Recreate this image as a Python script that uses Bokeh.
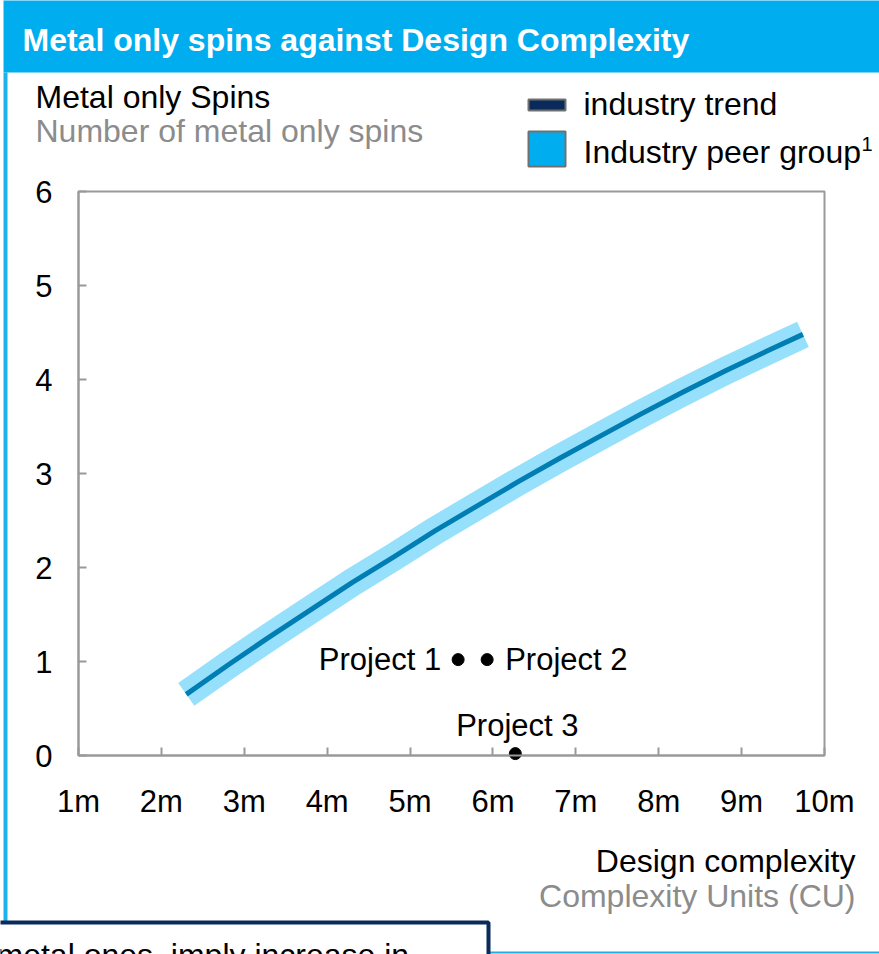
from bokeh.plotting import figure
from bokeh.models import (ColumnDataSource, BoxAnnotation, Label, FixedTicker,
                          Range1d, LinearAxis)
from bokeh.core.properties import value
from bokeh.embed import file_html
from bokeh.resources import INLINE

# ---------------- data ----------------
x_ticks = [1, 2, 3, 4, 5, 6, 7, 8, 9, 10]
x_tick_labels = ["1m", "2m", "3m", "4m", "5m", "6m", "7m", "8m", "9m", "10m"]
y_ticks = [0, 1, 2, 3, 4, 5, 6]

trend_x = [2.3, 2.8, 3.3, 3.8, 4.3, 4.8, 5.3, 5.8, 6.3, 6.8, 7.3, 7.8, 8.3, 8.8, 9.3, 9.74]
trend_y = [0.65, 0.96, 1.26, 1.55, 1.84, 2.11, 2.39, 2.65, 2.91, 3.16, 3.40, 3.64, 3.87, 4.09, 4.30, 4.48]

proj_names = ["Project 1", "Project 2", "Project 3"]
proj_x = [5.58, 5.93, 6.27]
proj_y = [1.02, 1.02, 0.02]

title_text = "Metal only spins against Design Complexity"
y_title = "Metal only Spins"
y_sub = "Number of metal only spins"
x_title = "Design complexity"
x_sub = "Complexity Units (CU)"
legend_labels = ["industry trend", "Industry peer group"]
footer_text = "metal ones, imply increase in"

# ---------------- layout ----------------
W, H = 879, 954
FL, FR, FT, FB = 78, 824, 191, 755          # chart frame in canvas pixels
XMIN, XMAX, YMIN, YMAX = 1, 10, 0, 6
kx = (XMAX - XMIN) / (FR - FL)
ky = (YMAX - YMIN) / (FB - FT)
FONT = "Liberation Sans"
BLUE = "#00AEEF"
NAVY = "#0B2A5C"
GRAY_TXT = "#8C8C8C"
AX = "#999999"

p = figure(width=W, height=H, output_backend="svg", toolbar_location=None,
           x_axis_location=None, y_axis_location=None,
           x_range=Range1d(XMIN - FL * kx, XMAX + (W - FR) * kx),
           y_range=Range1d(YMIN - (H - FB) * ky, YMAX + FT * ky),
           min_border=0, background_fill_color="white",
           border_fill_color="white")
p.xgrid.visible = False
p.ygrid.visible = False
p.outline_line_color = None


def style_axis(ax):
    ax.axis_line_color = AX
    ax.axis_line_width = 2
    ax.major_tick_in = 8
    ax.major_tick_out = 0
    ax.major_tick_line_color = AX
    ax.major_tick_line_width = 2
    ax.minor_tick_line_color = None
    ax.major_label_text_font = FONT
    ax.major_label_text_font_size = "31px"
    ax.major_label_text_color = "black"


xaxis = LinearAxis(ticker=FixedTicker(ticks=x_ticks), fixed_location=YMIN,
                   bounds=(XMIN, XMAX),
                   major_label_overrides={t: l for t, l in zip(x_ticks, x_tick_labels)})
style_axis(xaxis)
xaxis.major_label_standoff = 28
yaxis = LinearAxis(ticker=FixedTicker(ticks=y_ticks), fixed_location=XMIN,
                   bounds=(YMIN, YMAX))
style_axis(yaxis)
yaxis.major_label_standoff = 26

# chart frame (top and right edges)
p.add_layout(BoxAnnotation(left=XMIN, right=XMAX, bottom=YMIN, top=YMAX,
                           fill_alpha=0, line_color=AX, line_width=2,
                           line_alpha=1.0, level="underlay", editable=False))

# peer group band and trend line
p.line(trend_x, trend_y, line_color="#96E0FC", line_width=28, line_cap="butt",
       line_join="round")
p.line(trend_x, trend_y, line_color="#007DB3", line_width=5, line_cap="butt",
       line_join="round")

# projects
src = ColumnDataSource(dict(x=proj_x, y=proj_y, name=proj_names,
                            dx=[-17, 18, 2], dy=[0, 0, -28],
                            align=["right", "left", "center"]))
p.scatter("x", "y", source=src, size=12, color="black")
p.text("x", "y", text="name", source=src, x_offset="dx", y_offset="dy",
       text_align="align", text_baseline="middle",
       text_font=value(FONT), text_font_size="31px", text_color="black")

p.add_layout(xaxis, "below")
p.add_layout(yaxis, "left")


def sx(cx):
    return cx


def sy(cy):
    return H - cy


def box(l, t, r, b, fill, line=None, lw=0):
    bx = BoxAnnotation(left=sx(l), right=sx(r), top=sy(t), bottom=sy(b),
                       left_units="screen", right_units="screen",
                       top_units="screen", bottom_units="screen",
                       fill_color=fill if fill else "white",
                       fill_alpha=1.0 if fill else 0,
                       line_color=line if line else "white", line_width=lw,
                       line_alpha=1.0 if line else 0,
                       level="overlay", editable=False)
    p.add_layout(bx)
    return bx


def label(cx, cy, text, size="32px", color="black", align="left",
          baseline="middle", style="normal"):
    lb = Label(x=sx(cx), y=sy(cy), x_units="screen", y_units="screen",
               text=text, text_font=FONT, text_font_size=size,
               text_color=color, text_align=align, text_baseline=baseline,
               text_font_style=style, level="overlay")
    p.add_layout(lb)
    return lb


# panel: header bar, left border, bottom line
box(3, -5, 890, 72, BLUE)
box(3, 72, 7, 921, "#1DB2EE")
box(488, 951, 890, 953, "#29ABE2")
label(22, 39, title_text, size="32px", color="white", style="bold")

# axis titles
label(35, 96, y_title)
label(35, 130, y_sub, color=GRAY_TXT)
label(855, 860, x_title, align="right")
label(855, 895, x_sub, color=GRAY_TXT, align="right")

# legend
box(528, 99, 565, 110, NAVY, "#707070", 2)
box(528, 131, 565, 166, BLUE, "#707070", 2)
label(583, 103, legend_labels[0])
label(583, 151, legend_labels[1])
label(861, 143, "1", size="20px")

# bottom text box
box(-10, 922, 488, 990, "white", NAVY, 4)
label(-4, 954, footer_text, baseline="alphabetic")

open("out.html", "w").write(file_html(p, INLINE))
